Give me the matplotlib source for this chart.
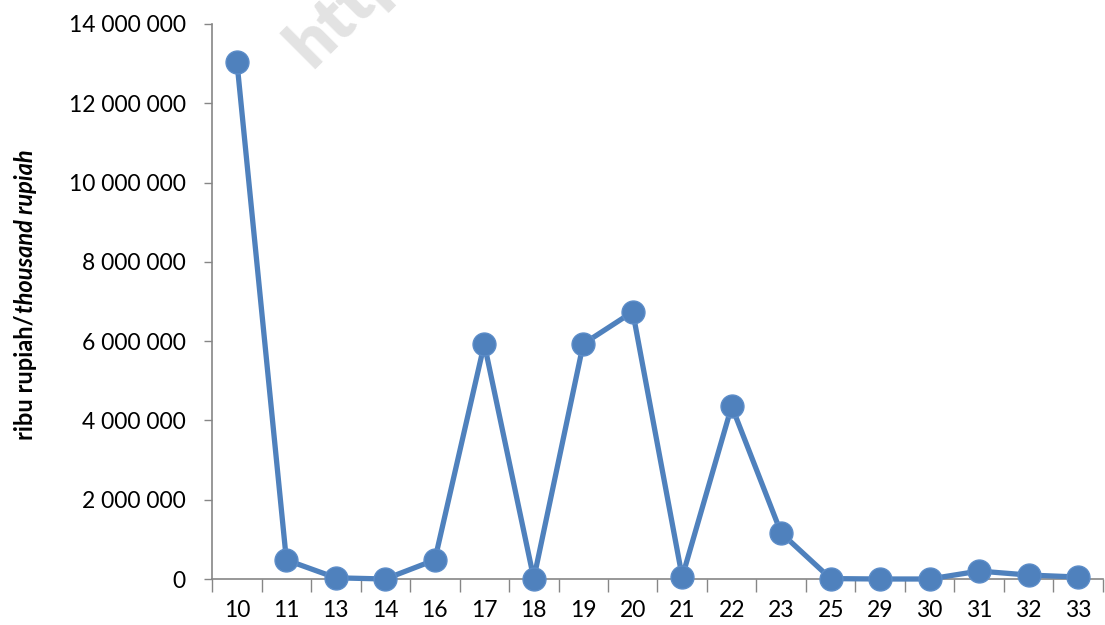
import matplotlib.pyplot as plt
from matplotlib.ticker import FuncFormatter

plt.rcParams['font.family'] = ['Lato', 'DejaVu Sans']

# data
categories = ['10', '11', '13', '14', '16', '17', '18', '19', '20',
              '21', '22', '23', '25', '29', '30', '31', '32', '33']
values = [13050000, 480000, 30000, 0, 480000, 5930000, 10000, 5930000, 6740000,
          50000, 4360000, 1160000, 10000, 0, 0, 200000, 100000, 50000]
y_ticks = [0, 2000000, 4000000, 6000000, 8000000, 10000000, 12000000, 14000000]

blue = '#4F81BD'
grey = '#868686'

fig = plt.figure(figsize=(11.05, 6.25), dpi=100)
ax = fig.add_axes([0.192, 0.0736, 0.806, 0.888])

x = list(range(len(categories)))
ax.plot(x, values, color=blue, lw=3.8, marker='o', markersize=16.5,
        markerfacecolor=blue, markeredgecolor='#5B8CC8', markeredgewidth=1,
        zorder=3, clip_on=False)

ax.set_xlim(-0.5, len(categories) - 0.5)
ax.set_ylim(0, 14000000)
ax.set_yticks(y_ticks)
ax.yaxis.set_major_formatter(FuncFormatter(lambda v, p: f'{int(v):,}'.replace(',', ' ')))

# x ticks at category boundaries, labels at centres
ax.set_xticks([i - 0.5 for i in range(len(categories) + 1)])
ax.set_xticklabels([])
ax.set_xticks(x, minor=True)
ax.set_xticklabels(categories, minor=True)
ax.tick_params(axis='x', which='major', length=9, width=1, color=grey)
ax.tick_params(axis='x', which='minor', length=0, pad=15, labelsize=16.5)
ax.tick_params(axis='y', length=6, width=1, color=grey, pad=13, labelsize=16.5)

for s in ['top', 'right']:
    ax.spines[s].set_visible(False)
for s in ['left', 'bottom']:
    ax.spines[s].set_color(grey)
    ax.spines[s].set_linewidth(1.2)

# watermark (cut by the top edge, as in the source image)
fig.text(0.25, 0.875, 'http', rotation=45, fontsize=50,
         fontweight='heavy', color='#E3E3E3', ha='left', va='bottom', zorder=0)

# y label: normal bold + bold italic
t1 = fig.text(0.023, 1 - 440 / 625, 'ribu rupiah/', rotation=90, fontsize=17,
              fontweight='bold', ha='center', va='bottom')
fig.canvas.draw()
bb = t1.get_window_extent()
fig.text(0.023, (bb.y1 + 1) / fig.bbox.height, 'thousand rupiah', rotation=90,
         fontsize=17, fontweight='bold', fontstyle='italic', ha='center', va='bottom')

fig.savefig('out.png', dpi=100)
